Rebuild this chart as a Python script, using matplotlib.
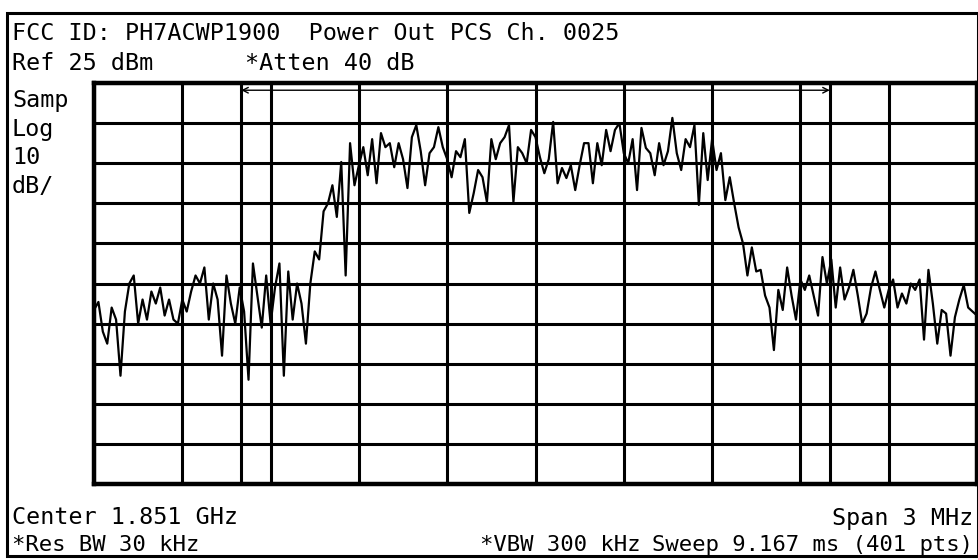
import numpy as np
import matplotlib
matplotlib.use("Agg")
import matplotlib.pyplot as plt
from matplotlib.patches import Rectangle

# analyzer settings
center_mhz = 1851.0
span_mhz = 3.0
ref_dbm = 25
db_per_div = 10
marker_mhz = [1850.0, 1852.0]

# trace (dBm, evenly spaced across the span)
level_dbm = [
    -31.6, -29.6, -37, -40, -31, -34, -48, -32, -25, -23,
    -35, -29, -34, -27, -30, -26, -33, -29, -34, -35,
    -29, -32, -27, -23, -25, -21, -34, -25, -29, -43,
    -23, -30, -35, -26, -32, -49, -20, -28, -36, -23,
    -35, -26, -20, -48, -22, -34, -25, -30, -40, -25,
    -17, -19, -7, -5, -0.5, -8.4, 5.3, -23, 10, -0.5,
    4.5, 9, 2, 11, 0, 12.5, 9, 10, 4, 10,
    6, -1.2, 11.5, 14.5, 8, -0.5, 7.5, 9, 14, 9,
    6, 1.5, 8, 6.5, 11, -7.4, -2.5, 3.3, 1.5, -4.7,
    11, 6, 10, 11.5, 14.5, -4.7, 9, 7.5, 5, 13.3,
    11.5, 6.5, 2.5, 6, 15.3, 0, 3.8, 1.3, 4.5, -1.7,
    4.5, 10, 10, 0, 10, 4.5, 13.3, 8, 13.3, 15,
    7.5, 5, 11, -1.7, 13.8, 8.8, 7.5, 2, 10, 4.5,
    8, 16.3, 7.5, 3.3, 11, 9, 14.5, -5.4, 12.5, 0.8,
    11, 3.3, 7.5, -4.2, 1.5, -5, -11, -15, -23, -16,
    -22, -21.6, -28, -31, -41.6, -26.6, -31.6, -21, -28, -34,
    -24, -26.6, -23, -28, -33, -18.4, -25, -19, -31, -21,
    -29, -26, -21.6, -28, -35, -32.5, -26, -22, -26.6, -31,
    -26.6, -24, -31, -27.5, -30, -25, -26.6, -24, -39, -21.6,
    -30, -40, -31.6, -32.5, -43, -33.4, -29, -25.4, -31, -32,
    -33,
]

header_lines = ["FCC ID: PH7ACWP1900  Power Out PCS Ch. 0025", "Ref 25 dBm"]
atten_label = "*Atten 40 dB"
side_labels = ["Samp", "Log", "10", "dB/"]

W, H = 979, 560
freq = np.linspace(center_mhz - span_mhz / 2, center_mhz + span_mhz / 2, len(level_dbm))

plt.rcParams["font.family"] = ["DejaVu Sans Mono"]
fs = 16.8
fs_small = 16

fig = plt.figure(figsize=(W / 100, H / 100), dpi=100)
fig.patch.set_facecolor("white")


def fx(px):
    return px / W


def fy(py):
    return 1 - py / H


# outer frame
fig.patches.append(Rectangle((fx(7), fy(556)), fx(971), 543 / H, transform=fig.transFigure,
                             fill=False, edgecolor="black", lw=2.2))

ax = fig.add_axes([fx(94), fy(484), fx(883), 401 / H])
ax.plot(freq, level_dbm, color="black", lw=1.6)
ax.set_xlim(freq[0], freq[-1])
ax.set_ylim(ref_dbm - 10 * db_per_div, ref_dbm)
ax.set_xticks(np.linspace(freq[0], freq[-1], 11))
ax.set_yticks(np.arange(ref_dbm - 10 * db_per_div, ref_dbm + 1, db_per_div))
ax.grid(True, color="black", lw=2.2)
ax.tick_params(length=0, labelbottom=False, labelleft=False)
for s in ax.spines.values():
    s.set_linewidth(3.2)
for m in marker_mhz:
    ax.axvline(m, color="black", lw=2.2)
ax.annotate("", xy=(marker_mhz[0], ref_dbm - 1.8), xytext=(marker_mhz[1], ref_dbm - 1.8),
            arrowprops=dict(arrowstyle="<->", lw=1.0, color="black", shrinkA=0, shrinkB=0))

# header
fig.text(fx(12), fy(34), header_lines[0], fontsize=fs, va="center", ha="left")
fig.text(fx(12), fy(63), header_lines[1], fontsize=fs, va="center", ha="left")
fig.text(fx(245), fy(63), atten_label, fontsize=fs, va="center", ha="left")
for i, lab in enumerate(side_labels):
    fig.text(fx(12), fy(101 + 28.5 * i), lab, fontsize=fs, va="center", ha="left")

# footer
fig.text(fx(12), fy(518), "Center 1.851 GHz", fontsize=fs, va="center", ha="left")
fig.text(fx(973), fy(518), "Span 3 MHz", fontsize=fs, va="center", ha="right")
fig.text(fx(12), fy(545), "*Res BW 30 kHz", fontsize=fs_small, va="center", ha="left")
fig.text(fx(480), fy(545), "*VBW 300 kHz", fontsize=fs_small, va="center", ha="left")
fig.text(fx(973), fy(545), "Sweep 9.167 ms (401 pts)", fontsize=fs_small, va="center", ha="right")

fig.savefig("out.png", dpi=100)
